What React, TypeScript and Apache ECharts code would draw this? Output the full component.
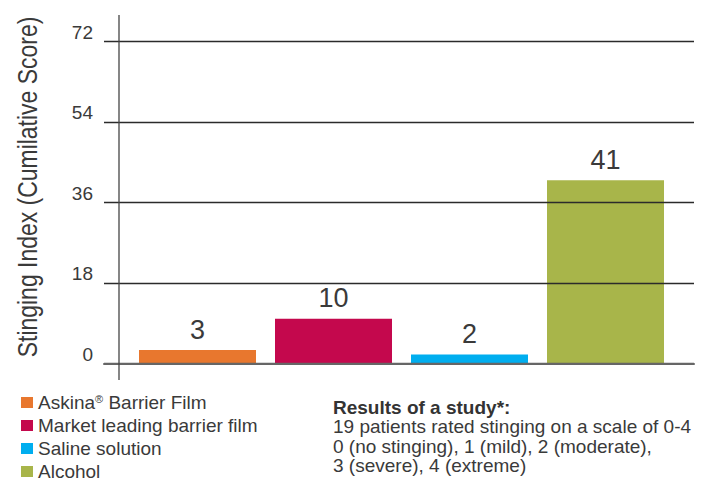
import React, { useEffect, useRef } from "react";
import * as echarts from "echarts";

const categories = [
  "Askina® Barrier Film",
  "Market leading barrier film",
  "Saline solution",
  "Alcohol",
];
const values = [3, 10, 2, 41];
const colors = ["#E8772E", "#C4084D", "#00AEEF", "#A8B54A"];
const yMin = 0;
const yMax = 72;
const yInterval = 18;
const yTitle = "Stinging Index (Cumilative Score)";
const noteTitle = "Results of a study*:";
const noteLines = [
  "19 patients rated stinging on a scale of 0-4",
  "0 (no stinging), 1 (mild), 2 (moderate),",
  "3 (severe), 4 (extreme)",
];

const REG = "'Liberation Sans', Arial, sans-serif";
const TXT = "#3a3a3a";

export default function App() {
  const ref = useRef<HTMLDivElement>(null);
  useEffect(() => {
    if (!ref.current) return;
    const chart = echarts.init(ref.current, undefined, { renderer: "svg" });
    const gridTop = 41.7;
    const gridBottom = 117.5;
    const series = categories.map((name, i) => ({
      name,
      type: "bar",
      xAxisIndex: 1,
      yAxisIndex: 1,
      barWidth: 117,
      barGap: "-100%",
      itemStyle: { color: colors[i] },
      data: categories.map((_, j) => (j === i ? values[i] : null)),
      label: {
        show: true,
        position: "top",
        distance: 7,
        fontFamily: REG,
        fontSize: 27,
        color: TXT,
      },
      z: 2,
    }));
    chart.setOption({
      animation: false,
      backgroundColor: "#ffffff",
      grid: [
        { left: 104, right: 14, top: gridTop, bottom: gridBottom },
        { left: 129.5, right: 34.5, top: gridTop, bottom: gridBottom },
      ],
      xAxis: [
        {
          gridIndex: 0,
          type: "category",
          data: categories,
          z: 6,
          axisLine: { show: true, lineStyle: { color: "#666666", width: 2 } },
          axisTick: { show: false },
          axisLabel: { show: false },
          splitLine: { show: false },
        },
        {
          gridIndex: 1,
          type: "category",
          data: categories,
          show: false,
        },
      ],
      yAxis: [
        {
          gridIndex: 0,
          type: "value",
          min: yMin,
          max: yMax,
          interval: yInterval,
          z: 5,
          axisLine: { show: false },
          axisTick: { show: false },
          axisLabel: {
            margin: 11,
            fontFamily: REG,
            fontSize: 19,
            color: TXT,
            verticalAlign: "bottom",
            lineHeight: 19,
          },
          splitLine: {
            show: true,
            lineStyle: { color: ["#666666", "#2b2b2b", "#2b2b2b", "#2b2b2b", "#2b2b2b"], width: 1.3 },
          },
        },
        {
          gridIndex: 1,
          type: "value",
          min: yMin,
          max: yMax,
          interval: yInterval,
          show: false,
          splitLine: { show: false },
        },
      ],
      legend: {
        orient: "vertical",
        left: 21,
        top: 393,
        itemWidth: 12,
        itemHeight: 11,
        itemGap: 4,
        icon: "rect",
        padding: 0,
        data: categories,
        textStyle: {
          fontFamily: REG,
          fontSize: 19,
          color: TXT,
          rich: {
            r: { fontFamily: REG, fontSize: 11, color: TXT, verticalAlign: "top", padding: [0, 0, 6, 0] },
          },
        },
        formatter: (name: string) => name.replace("®", "{r|®}"),
      },
      graphic: [
        {
          type: "line",
          shape: { x1: 119, y1: 15, x2: 119, y2: 380 },
          style: { stroke: "#444444", lineWidth: 1.3 },
          z: 10,
        },
        {
          type: "text",
          x: 27.5,
          y: 187,
          rotation: Math.PI / 2,
          scaleX: 0.82,
          style: {
            text: yTitle,
            fontFamily: REG,
            fontSize: 28,
            fill: TXT,
            align: "center",
            verticalAlign: "middle",
          },
        },
        {
          type: "text",
          x: 333,
          y: 398,
          style: {
            text: "{b|" + noteTitle + "}\n" + noteLines.join("\n"),
            fontFamily: REG,
            fontSize: 19,
            lineHeight: 19.3,
            fill: TXT,
            align: "left",
            verticalAlign: "top",
            rich: {
              b: { fontFamily: REG, fontSize: 19, fontWeight: "bold", fill: "#333333", lineHeight: 19.3 },
            },
          },
        },
      ],
      series,
    });
    return () => chart.dispose();
  }, []);
  return (
    <div
      ref={ref}
      style={{ position: "fixed", left: 0, top: 0, width: 708, height: 481, background: "#fff" }}
    />
  );
}
